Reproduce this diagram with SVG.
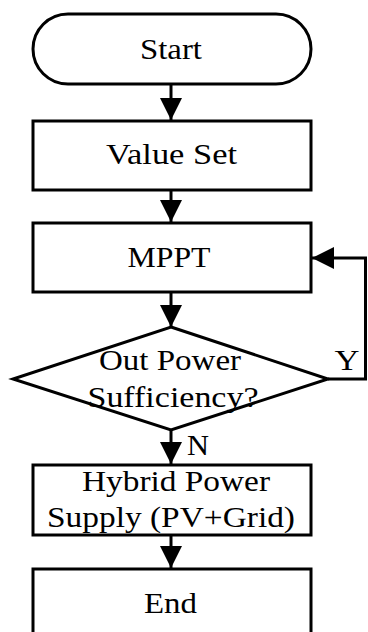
<svg xmlns="http://www.w3.org/2000/svg" width="368" height="632" viewBox="0 0 368 632">
<style>
.n{fill:#fff;stroke:#000;stroke-width:3}
.t{font-family:"Liberation Serif","Times New Roman",serif;font-size:30px;fill:#000;text-anchor:middle}
.c{fill:none;stroke:#000;stroke-width:3}
</style>
<defs>
<marker id="a" markerUnits="userSpaceOnUse" markerWidth="22" markerHeight="22" viewBox="0 0 20 20" refX="20" refY="10" orient="auto">
<path d="M0,0 L20,10 L0,20 Z" fill="#000"/>
</marker>
</defs>
<rect width="368" height="632" fill="#fff"/>
<g id="connectors">
<path class="c" d="M171,84 V120" marker-end="url(#a)"/>
<path class="c" d="M171,190 V222" marker-end="url(#a)"/>
<path class="c" d="M171,292 V327" marker-end="url(#a)"/>
<path class="c" d="M171,430 V464" marker-end="url(#a)"/>
<path class="c" d="M171,535 V568" marker-end="url(#a)"/>
<path class="c" d="M328,379 H365.5 V258 H312" marker-end="url(#a)"/>
<text class="t" x="347" y="370" textLength="25" lengthAdjust="spacingAndGlyphs">Y</text>
<text class="t" x="198" y="455" textLength="22" lengthAdjust="spacingAndGlyphs">N</text>
</g>
<g id="start">
<rect class="n" x="33" y="14" width="278" height="70" rx="35"/>
<text class="t" x="171" y="59" textLength="62" lengthAdjust="spacingAndGlyphs">Start</text>
</g>
<g id="valueset">
<rect class="n" x="33" y="121" width="278" height="69"/>
<text class="t" x="171.5" y="164" textLength="131" lengthAdjust="spacingAndGlyphs">Value Set</text>
</g>
<g id="mppt">
<rect class="n" x="33" y="223" width="278" height="69"/>
<text class="t" x="169" y="267" textLength="83" lengthAdjust="spacingAndGlyphs">MPPT</text>
</g>
<g id="decision">
<polygon class="n" points="171,327 328,379 171,430 13,379"/>
<text class="t" x="170" y="370" textLength="142" lengthAdjust="spacingAndGlyphs">Out Power</text>
<text class="t" x="173" y="407" textLength="171" lengthAdjust="spacingAndGlyphs">Sufficiency?</text>
</g>
<g id="hybrid">
<rect class="n" x="33" y="465" width="278" height="70"/>
<text class="t" x="176" y="491" textLength="188" lengthAdjust="spacingAndGlyphs">Hybrid Power</text>
<text class="t" x="171" y="527" textLength="248" lengthAdjust="spacingAndGlyphs">Supply (PV+Grid)</text>
</g>
<g id="end">
<rect class="n" x="33" y="569" width="278" height="80"/>
<text class="t" x="170.5" y="613" textLength="53" lengthAdjust="spacingAndGlyphs">End</text>
</g>
</svg>
